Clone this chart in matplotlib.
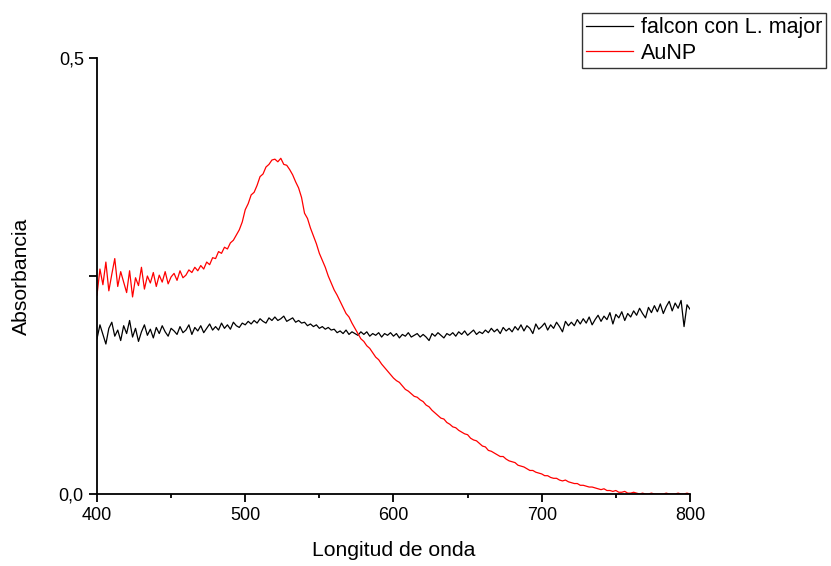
import matplotlib
matplotlib.use("Agg")
import matplotlib.pyplot as plt

plt.rcParams['font.family'] = ['Liberation Sans', 'DejaVu Sans']

# longitud de onda (nm), paso de 2 nm
wl = list(range(400, 801, 2))

# falcon con L. major
falcon = [0.178, 0.194, 0.183, 0.172, 0.190, 0.197, 0.181, 0.188, 0.176, 0.193,
          0.184, 0.199, 0.180, 0.190, 0.175, 0.186, 0.194, 0.182, 0.189, 0.179,
          0.191, 0.184, 0.193, 0.186, 0.181, 0.190, 0.187, 0.183, 0.192, 0.185,
          0.188, 0.194, 0.183, 0.191, 0.187, 0.193, 0.185, 0.190, 0.195, 0.188,
          0.192, 0.188, 0.196, 0.190, 0.194, 0.189, 0.197, 0.193, 0.191, 0.196,
          0.194, 0.198, 0.195, 0.199, 0.196, 0.201, 0.198, 0.196, 0.202, 0.199,
          0.203, 0.199, 0.201, 0.204, 0.198, 0.200, 0.202, 0.197, 0.199, 0.196,
          0.197, 0.193, 0.195, 0.192, 0.194, 0.190, 0.192, 0.189, 0.191, 0.188,
          0.189, 0.185, 0.187, 0.184, 0.188, 0.183, 0.186, 0.184, 0.182, 0.186,
          0.183, 0.186, 0.181, 0.184, 0.182, 0.185, 0.180, 0.184, 0.182, 0.185,
          0.181, 0.184, 0.179, 0.183, 0.181, 0.185, 0.180, 0.182, 0.184, 0.180,
          0.183, 0.180, 0.176, 0.184, 0.181, 0.185, 0.182, 0.179, 0.184, 0.182,
          0.185, 0.181, 0.186, 0.183, 0.187, 0.182, 0.185, 0.188, 0.183, 0.186,
          0.184, 0.188, 0.185, 0.190, 0.186, 0.189, 0.184, 0.191, 0.187, 0.190,
          0.186, 0.192, 0.188, 0.194, 0.187, 0.193, 0.190, 0.184, 0.195, 0.189,
          0.192, 0.196, 0.188, 0.194, 0.190, 0.197, 0.192, 0.186, 0.198, 0.193,
          0.197, 0.193, 0.200, 0.195, 0.201, 0.196, 0.203, 0.194, 0.200, 0.205,
          0.198, 0.204, 0.200, 0.208, 0.195, 0.206, 0.202, 0.209, 0.199, 0.207,
          0.203, 0.210, 0.205, 0.213, 0.207, 0.202, 0.214, 0.208, 0.216, 0.209,
          0.218, 0.207, 0.215, 0.221, 0.210, 0.219, 0.213, 0.222, 0.192, 0.217,
          0.212]

# AuNP
aunp = [0.228, 0.258, 0.240, 0.266, 0.233, 0.252, 0.270, 0.238, 0.255, 0.243,
        0.231, 0.256, 0.226, 0.248, 0.239, 0.260, 0.235, 0.250, 0.242, 0.254,
        0.238, 0.251, 0.243, 0.255, 0.241, 0.249, 0.253, 0.245, 0.256, 0.248,
        0.251, 0.257, 0.254, 0.260, 0.256, 0.262, 0.258, 0.266, 0.263, 0.271,
        0.270, 0.278, 0.276, 0.283, 0.281, 0.288, 0.291, 0.297, 0.303, 0.312,
        0.326, 0.333, 0.343, 0.346, 0.354, 0.364, 0.367, 0.375, 0.378, 0.383,
        0.384, 0.381, 0.385, 0.378, 0.377, 0.372, 0.366, 0.358, 0.351, 0.340,
        0.322, 0.316, 0.305, 0.296, 0.287, 0.276, 0.268, 0.260, 0.250, 0.242,
        0.234, 0.228, 0.221, 0.214, 0.207, 0.203, 0.196, 0.190, 0.184, 0.178,
        0.175, 0.170, 0.167, 0.162, 0.157, 0.154, 0.149, 0.145, 0.141, 0.137,
        0.133, 0.130, 0.128, 0.124, 0.120, 0.118, 0.115, 0.112, 0.111, 0.108,
        0.106, 0.102, 0.100, 0.096, 0.093, 0.090, 0.087, 0.086, 0.082, 0.080,
        0.077, 0.076, 0.073, 0.071, 0.069, 0.068, 0.064, 0.062, 0.061, 0.058,
        0.055, 0.054, 0.050, 0.049, 0.047, 0.045, 0.043, 0.043, 0.040, 0.038,
        0.037, 0.036, 0.033, 0.032, 0.031, 0.029, 0.027, 0.027, 0.025, 0.024,
        0.023, 0.021, 0.021, 0.019, 0.018, 0.018, 0.016, 0.015, 0.016, 0.014,
        0.013, 0.012, 0.012, 0.010, 0.010, 0.009, 0.008, 0.008, 0.007, 0.006,
        0.005, 0.006, 0.004, 0.004, 0.003, 0.004, 0.002, 0.002, 0.003, 0.001,
        0.001, 0.002, 0.001, 0.000, 0.001, 0.000, 0.000, 0.001, 0.000, 0.000,
        0.000, 0.000, 0.001, 0.000, 0.000, 0.000, 0.001, 0.000, 0.000, 0.001,
        0.000]

fig = plt.figure(figsize=(8.31, 5.66), dpi=100)
ax = fig.add_axes([0.1167, 0.1272, 0.7136, 0.7703])

ax.plot(wl, falcon, color='black', lw=0.9, label='falcon con L. major')
ax.plot(wl, aunp, color='red', lw=0.9, label='AuNP')

ax.set_xlim(400, 800)
ax.set_ylim(0, 0.5)
ax.set_xticks([400, 500, 600, 700, 800])
ax.set_xticks([450, 550, 650, 750], minor=True)
ax.set_yticks([0, 0.25, 0.5])
ax.set_yticklabels(['0,0', '', '0,5'])

for s in ['top', 'right']:
    ax.spines[s].set_visible(False)
for s in ['left', 'bottom']:
    ax.spines[s].set_linewidth(1.3)

ax.tick_params(which='major', direction='out', length=6, width=1.3, labelsize=13)
ax.tick_params(which='minor', direction='out', length=3, width=1.3)

ax.set_xlabel('Longitud de onda', fontsize=15.2, labelpad=12)
ax.set_ylabel('Absorbancia', fontsize=15.2, labelpad=20)

leg = fig.legend(loc='upper left', bbox_to_anchor=(0.700, 0.977),
                 bbox_transform=fig.transFigure, fontsize=15.5,
                 frameon=True, fancybox=False, shadow=False,
                 handlelength=2.16, handletextpad=0.38, labelspacing=0.2,
                 borderpad=0.2, borderaxespad=0)
leg.get_frame().set_edgecolor('black')
leg.get_frame().set_linewidth(1.0)

fig.savefig('out.png', dpi=100)
